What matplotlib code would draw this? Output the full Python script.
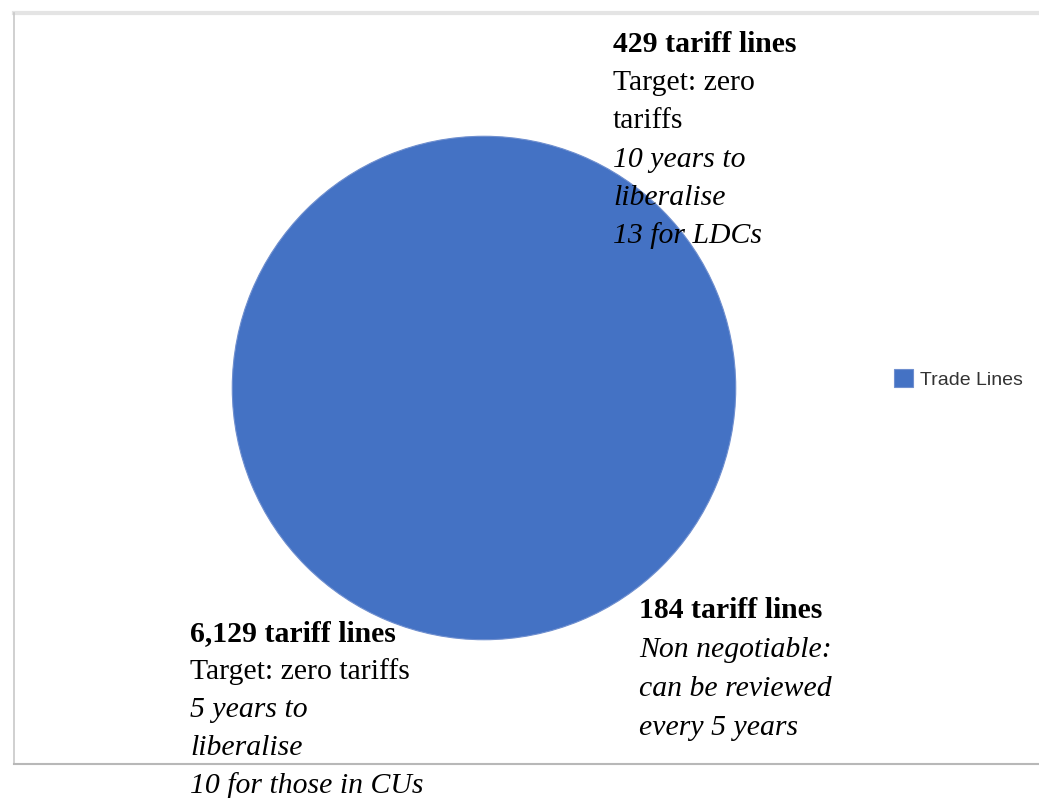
import matplotlib.pyplot as plt
from matplotlib.lines import Line2D

# data
categories = ['Trade Lines']
values = [6742]
slice_colors = ['#4472c4']

# annotation blocks: (lines, styles)
block_top = ['429 tariff lines', 'Target: zero', 'tariffs', '10 years to', 'liberalise', '13 for LDCs']
style_top = ['bold', 'normal', 'normal', 'italic', 'italic', 'italic']
block_left = ['6,129 tariff lines', 'Target: zero tariffs', '5 years to', 'liberalise', '10 for those in CUs']
style_left = ['bold', 'normal', 'italic', 'italic', 'italic']
block_right = ['184 tariff lines', 'Non negotiable:', 'can be reviewed', 'every 5 years']
style_right = ['bold', 'italic', 'italic', 'italic']

W, H = 1039, 798
fig = plt.figure(figsize=(W / 100, H / 100), dpi=100)

# chart frame
frame_col = '#c8c8c8'
fig.add_artist(Line2D([14 / W, 1], [1 - 13 / H, 1 - 13 / H], color='#e4e4e4', lw=3))
fig.add_artist(Line2D([14 / W, 14 / W], [1 - 13 / H, 1 - 764 / H], color=frame_col, lw=1.2))
fig.add_artist(Line2D([14 / W, 1], [1 - 764 / H, 1 - 764 / H], color='#b8b8b8', lw=1.5))

cx, cy, r = 484, 388, 253
ax = fig.add_axes([(cx - r) / W, (H - cy - r) / H, 2 * r / W, 2 * r / H])
wedges, _ = ax.pie(values, colors=slice_colors, radius=1,
                   wedgeprops=dict(edgecolor='#6f8fcf', linewidth=0.8))
ax.set_xlim(-1.005, 1.005)
ax.set_ylim(-1.005, 1.005)
ax.axis('off')

leg = fig.legend(wedges, categories, loc='center left',
                 bbox_to_anchor=(876 / W, 1 - 379 / H), frameon=False,
                 prop={'family': 'Liberation Sans', 'size': 14},
                 handlelength=1.0, handleheight=1.0, handletextpad=0.35)
for t in leg.get_texts():
    t.set_color('#333333')


def put_block(lines, styles, x, y0, step):
    for i, (txt, st) in enumerate(zip(lines, styles)):
        kw = dict(family='Liberation Serif', size=21.4, color='black', va='center', ha='left')
        if st == 'bold':
            kw['weight'] = 'bold'
        elif st == 'italic':
            kw['style'] = 'italic'
        fig.text(x / W, 1 - (y0 + i * step) / H, txt, **kw)


put_block(block_top, style_top, 613, 45, 38.2)
put_block(block_left, style_left, 190, 634, 38.0)
put_block(block_right, style_right, 639, 611, 39)

fig.savefig('out.png', dpi=100, facecolor='white')
